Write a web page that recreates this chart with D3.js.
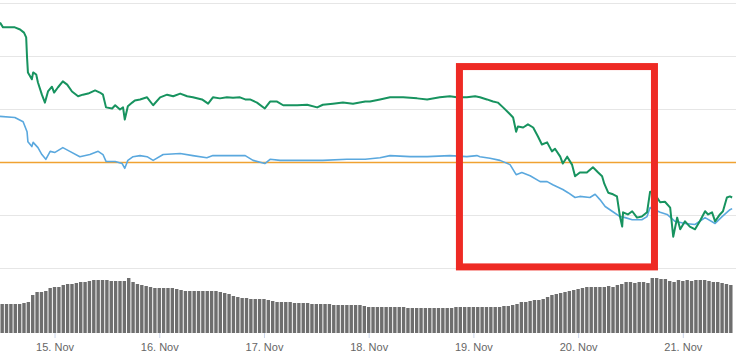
<!DOCTYPE html>
<html>
<head>
<meta charset="utf-8">
<script src="https://cdn.jsdelivr.net/npm/d3@7"></script>
<style>
    body { margin: 0; background: #fff; }
    svg { display: block; font-family: "Liberation Sans", Arial, sans-serif; }
    .tick line { stroke: #ccd6eb; }
    .tick text { fill: #666; font-size: 11px; }
</style>
</head>
<body>
<svg id="chart" width="736" height="357"></svg>
<script>
// hours after 14 Nov 11:30, value
const priceSeries = [
    [0, 46.4], [0.7, 45.5], [1.6, 45.5], [3.4, 45.5], [4.6, 45.1], [5.5, 44.5], [6.0, 43.6], [6.2, 39.8],
    [6.4, 37.0], [7.3, 35.7], [7.6, 37.0], [8.3, 36.6], [8.7, 35.1], [9.6, 32.8], [10.3, 31.3], [11.0, 33.4],
    [11.9, 34.3], [12.4, 33.2], [13.3, 34.2], [14.4, 35.3], [15.4, 34.7], [16.5, 33.4], [17.9, 32.5], [19.0, 32.8],
    [20.2, 33.0], [21.8, 33.6], [22.9, 33.2], [23.6, 32.8], [24.3, 30.4], [25.7, 30.2], [26.4, 30.8], [27.5, 30.0],
    [28.2, 30.4], [28.6, 28.1], [29.3, 30.6], [30.3, 31.3], [30.9, 31.7], [32.1, 31.9], [33.7, 32.3], [35.1, 30.8],
    [36.7, 32.3], [38.3, 32.8], [39.7, 32.5], [41.3, 33.0], [42.9, 32.5], [44.2, 32.3], [46.3, 31.9], [47.7, 31.1],
    [48.8, 32.3], [50.4, 32.1], [52.0, 32.3], [53.4, 32.2], [55.0, 32.3], [56.2, 31.9], [57.3, 31.9], [58.9, 31.3],
    [60.7, 30.2], [61.9, 31.5], [63.5, 31.5], [64.9, 30.8], [68.1, 30.8], [70.4, 30.9], [72.7, 30.4], [74.0, 30.9],
    [76.3, 31.1], [78.6, 31.3], [80.9, 31.1], [83.7, 31.5], [84.8, 31.5], [87.1, 31.9], [89.4, 32.3], [92.4, 32.3],
    [95.6, 32.1], [97.9, 31.9], [100.8, 32.3], [103.1, 32.5], [104.7, 32.3], [107.0, 32.3], [108.9, 32.5], [110.0, 32.3],
    [111.6, 31.9], [113.0, 31.5], [114.1, 31.3], [115.3, 30.4], [116.9, 29.1], [117.6, 28.5], [118.3, 25.8], [118.7, 26.8],
    [119.9, 26.6], [121.0, 27.2], [122.2, 26.6], [123.3, 24.9], [124.2, 23.4], [125.4, 23.8], [126.5, 22.1], [127.2, 22.6],
    [128.4, 21.1], [129.0, 19.8], [130.0, 21.1], [131.1, 19.6], [131.8, 17.4], [132.9, 18.1], [134.5, 18.1], [135.9, 19.1],
    [137.1, 18.1], [138.0, 17.4], [138.5, 16.0], [139.4, 14.3], [140.5, 14.0], [141.4, 13.6], [142.1, 9.8], [142.6, 7.9],
    [142.8, 10.6], [143.9, 10.2], [144.9, 10.8], [146.0, 9.6], [147.1, 9.8], [148.3, 10.6], [149.0, 14.5], [149.7, 14.5],
    [151.3, 12.5], [152.4, 12.6], [153.6, 11.5], [154.3, 6.0], [155.2, 9.6], [155.9, 7.4], [157.0, 8.9], [158.1, 7.9],
    [159.3, 7.4], [160.4, 8.9], [161.6, 10.8], [162.3, 10.2], [163.2, 10.6], [163.9, 8.9], [165.0, 10.2], [165.7, 10.8],
    [166.6, 13.4], [167.3, 13.6], [167.8, 13.4]
];

const indexSeries = [
    [0, 28.7], [3.4, 28.5], [5.3, 27.7], [6.2, 25.8], [6.4, 23.9], [7.3, 23.0], [7.6, 23.8], [8.7, 22.8],
    [9.6, 21.5], [10.5, 20.6], [11.5, 22.1], [12.6, 21.9], [14.4, 22.8], [16.0, 22.1], [18.3, 21.1], [20.6, 21.5],
    [22.5, 22.1], [23.6, 21.5], [24.3, 20.2], [26.4, 20.2], [28.0, 19.8], [28.6, 18.9], [29.3, 20.4], [30.5, 21.1],
    [32.1, 21.3], [33.7, 21.1], [35.1, 20.4], [37.4, 21.5], [41.3, 21.7], [44.2, 21.3], [47.4, 20.9], [48.8, 21.3],
    [56.2, 21.3], [58.0, 20.4], [60.7, 19.8], [61.9, 20.6], [64.2, 20.4], [70.4, 20.4], [74.0, 20.4], [79.5, 20.6],
    [83.7, 20.6], [87.1, 20.9], [89.4, 21.3], [94.0, 21.1], [97.9, 21.1], [103.1, 21.3], [107.0, 21.1], [109.3, 21.3],
    [110.0, 21.1], [112.3, 20.8], [114.6, 20.4], [116.9, 19.6], [118.3, 17.7], [119.6, 18.1], [121.5, 17.5], [123.8, 16.4],
    [125.4, 16.4], [126.7, 15.8], [129.0, 14.9], [130.2, 14.3], [131.8, 13.4], [132.9, 13.6], [135.2, 13.4], [136.4, 14.0],
    [137.5, 13.0], [138.7, 11.7], [140.3, 10.8], [142.1, 9.8], [143.3, 9.6], [144.9, 9.2], [147.1, 9.2], [148.3, 9.8],
    [149.0, 11.5], [151.3, 10.6], [152.9, 10.2], [154.7, 8.9], [157.0, 8.5], [159.3, 8.3], [161.6, 9.6], [163.9, 8.5],
    [165.5, 9.8], [167.3, 11.1], [167.8, 11.3]
];

const targetLevel = 20;

// hourly volume, first bar at 14 Nov 12:00
const volumes = [
    29, 29, 29, 29, 29, 30, 31, 38, 41, 41, 42, 45, 46, 46, 48, 49, 49, 50, 51, 51, 52, 53, 53, 53,
    53, 52, 52, 52, 52, 55, 51, 49, 48, 47, 46, 45, 45, 45, 45, 45, 44, 43, 42, 42, 42, 42, 42, 42,
    42, 42, 41, 40, 39, 37, 36, 35, 35, 34, 34, 34, 34, 33, 32, 31, 31, 31, 31, 30, 30, 30, 30, 29,
    29, 29, 29, 29, 28, 28, 28, 28, 28, 28, 28, 27, 26, 26, 26, 26, 26, 26, 26, 26, 26, 25, 25, 25,
    25, 25, 25, 25, 25, 25, 25, 25, 26, 26, 26, 26, 26, 26, 26, 26, 26, 26, 26, 27, 27, 28, 29, 31,
    31, 32, 33, 33, 34, 36, 38, 39, 40, 41, 42, 43, 44, 45, 46, 46, 46, 46, 46, 47, 46, 48, 49, 51,
    51, 50, 51, 51, 50, 55, 55, 54, 54, 52, 51, 53, 52, 53, 52, 53, 53, 53, 52, 51, 51, 50, 49, 48
];

const dayTicks = ["2018-11-15", "2018-11-16", "2018-11-17", "2018-11-18", "2018-11-19", "2018-11-20", "2018-11-21"];

const highlightTimes = ["2018-11-18T20:48", "2018-11-20T17:30"];
const highlightValues = [0.3, 38.1];

const startTime = new Date(2018, 10, 14, 11, 30);
const hourMs = 3600 * 1000;
const atHour = h => new Date(startTime.getTime() + h * hourMs);
const parseTime = d3.timeParse("%Y-%m-%dT%H:%M");
const parseDay = d3.timeParse("%Y-%m-%d");

const svg = d3.select("#chart");

const x = d3.scaleTime()
    .domain([startTime, atHour(168)])
    .range([0, 733]);

const y = d3.scaleLinear()
    .domain([0, 50])
    .range([268.5, 3.5]);

const yVolume = d3.scaleLinear()
    .domain([0, 64])
    .range([333, 269]);

// grid
svg.append("g")
    .selectAll("line")
    .data(y.ticks(5))
    .enter()
    .append("line")
    .attr("x1", 0)
    .attr("x2", 736)
    .attr("y1", d => y(d))
    .attr("y2", d => y(d))
    .attr("stroke", "#e6e6e6")
    .attr("stroke-width", 1);

// target level
svg.append("line")
    .attr("x1", 0)
    .attr("x2", 736)
    .attr("y1", y(targetLevel))
    .attr("y2", y(targetLevel))
    .attr("stroke", "#f0a232")
    .attr("stroke-width", 1.6);

const line = d3.line()
    .x(d => x(atHour(d[0])))
    .y(d => y(d[1]));

svg.append("path")
    .datum(indexSeries)
    .attr("d", line)
    .attr("fill", "none")
    .attr("stroke", "#5aa8de")
    .attr("stroke-width", 1.6)
    .attr("stroke-linejoin", "round");

svg.append("path")
    .datum(priceSeries)
    .attr("d", line)
    .attr("fill", "none")
    .attr("stroke", "#17935f")
    .attr("stroke-width", 2)
    .attr("stroke-linejoin", "round");

// volume bars
svg.append("g")
    .selectAll("rect")
    .data(volumes)
    .enter()
    .append("rect")
    .attr("x", (d, i) => x(atHour(i + 0.5)) - 1.7)
    .attr("width", 3.4)
    .attr("y", d => yVolume(d))
    .attr("height", d => yVolume(0) - yVolume(d))
    .attr("fill", "#6e6e6e");

// x axis
const xAxis = d3.axisBottom(x)
    .tickValues(dayTicks.map(parseDay))
    .tickFormat(d3.timeFormat("%-d. %b"))
    .tickSize(5)
    .tickPadding(5);

svg.append("g")
    .attr("transform", "translate(0, 333)")
    .call(xAxis)
    .call(g => g.select(".domain").remove());

// highlight box
const boxTimes = highlightTimes.map(parseTime);
svg.append("rect")
    .attr("x", x(boxTimes[0]))
    .attr("y", y(highlightValues[1]))
    .attr("width", x(boxTimes[1]) - x(boxTimes[0]))
    .attr("height", y(highlightValues[0]) - y(highlightValues[1]))
    .attr("fill", "none")
    .attr("stroke", "#ee2a24")
    .attr("stroke-width", 7);
</script>
</body>
</html>
